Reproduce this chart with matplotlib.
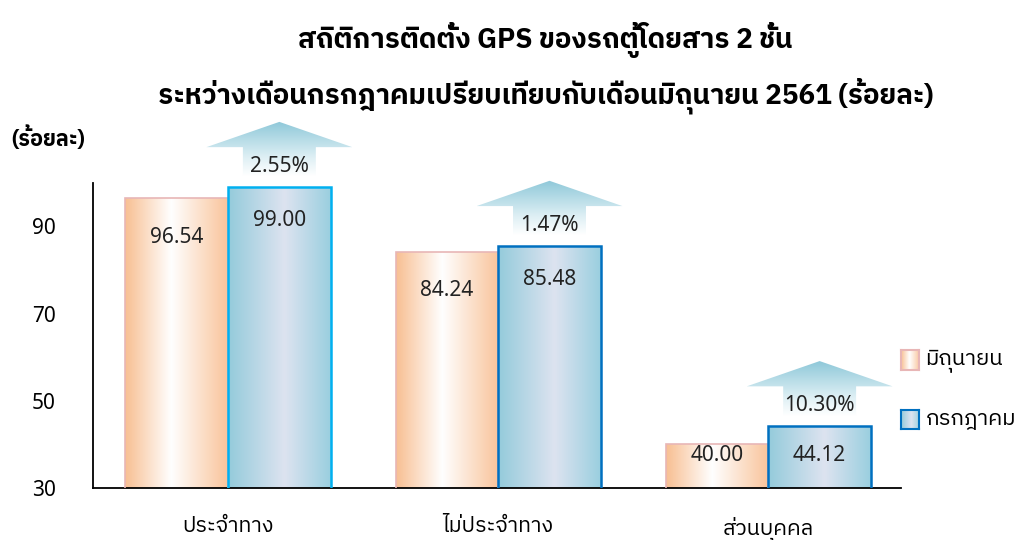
import numpy as np
import matplotlib
matplotlib.use("Agg")
import matplotlib.pyplot as plt
from matplotlib.colors import LinearSegmentedColormap
from matplotlib.patches import Polygon

plt.rcParams['font.family'] = ['Noto Sans', 'IBM Plex Sans Thai']
bold_fam = ['IBM Plex Sans Thai', 'DejaVu Sans']

# ข้อมูล
categories = ['ประจำทาง', 'ไม่ประจำทาง', 'ส่วนบุคคล']
june = [96.54, 84.24, 40.00]
july = [99.00, 85.48, 44.12]
change_labels = ['2.55%', '1.47%', '10.30%']
series_names = ['มิถุนายน', 'กรกฎาคม']

# สีไล่ระดับ
orange_cmap = LinearSegmentedColormap.from_list(
    'org', [(0, '#f8bf92'), (0.45, '#ffffff'), (1, '#f9c49b')])
blue_cmap = LinearSegmentedColormap.from_list(
    'blu', [(0, '#94cbdb'), (0.55, '#dde3f0'), (1, '#9acfdf')])
arrow_cmap = LinearSegmentedColormap.from_list(
    'arr', [(0, '#ffffff'), (0.35, '#ddeff4'), (1, '#8ec8d9')])
july_edges = ['#00b0f0', '#0070c0', '#0070c0']

grad_h = np.linspace(0, 1, 256).reshape(1, -1)
grad_v = np.linspace(0, 1, 256).reshape(-1, 1)

fig = plt.figure(figsize=(10.16, 5.4), dpi=100)
ax = fig.add_axes([0.0915, 0.0963, 0.795, 0.565])

x = np.arange(len(categories))
w = 0.38

bars_june = ax.bar(x - w / 2, june, w, facecolor='none',
                   edgecolor='#e8b6b6', linewidth=1.2, zorder=3)
bars_july = ax.bar(x + w / 2, july, w, facecolor='none',
                   edgecolor=july_edges, linewidth=1.8, zorder=3)


def fill_gradient(rect, cmap):
    x0 = rect.get_x()
    x1, y1 = x0 + rect.get_width(), rect.get_height()
    im = ax.imshow(grad_h, cmap=cmap, extent=[x0, x1, 30, y1],
                   aspect='auto', zorder=2, interpolation='bilinear')
    im.set_clip_path(rect)


for r in bars_june:
    fill_gradient(r, orange_cmap)
for r in bars_july:
    fill_gradient(r, blue_cmap)

# ลูกศรแสดงการเปลี่ยนแปลง
for xi, v, lab in zip(x + w / 2, july, change_labels):
    base = v + 2.5
    neck = v + 9.2
    tip = v + 15.0
    hw, sw = 0.27, 0.135
    pts = [(xi - sw, base), (xi - sw, neck), (xi - hw, neck), (xi, tip),
           (xi + hw, neck), (xi + sw, neck), (xi + sw, base)]
    poly = Polygon(pts, closed=True, facecolor='none', edgecolor='none',
                   clip_on=False)
    ax.add_patch(poly)
    im = ax.imshow(grad_v, cmap=arrow_cmap, origin='lower',
                   extent=[xi - hw, xi + hw, base, tip],
                   aspect='auto', zorder=2, interpolation='bilinear')
    im.set_clip_path(poly)
    im.set_clip_box(fig.bbox)
    ax.text(xi, v + 4.8, lab, ha='center', va='center', fontsize=15,
            color='#222222', zorder=4, clip_on=False)

# ค่าในแท่ง
for xi, v in zip(x - w / 2, june):
    ax.text(xi, max(v - 9.0, 37.5), f'{v:.2f}', ha='center', va='center',
            fontsize=15, color='#222222', zorder=4)
for xi, v in zip(x + w / 2, july):
    ax.text(xi, max(v - 7.7, 37.5), f'{v:.2f}', ha='center', va='center',
            fontsize=15, color='#222222', zorder=4)

ax.set_xlim(-0.5, 2.49)
ax.set_ylim(30, 100)
ax.set_yticks([30, 50, 70, 90])
ax.set_xticks(x)
ax.set_xticklabels(categories, fontsize=15.5)
ax.tick_params(axis='y', length=0, pad=27, labelsize=15)
ax.tick_params(axis='x', length=0, pad=20)
for s in ['top', 'right']:
    ax.spines[s].set_visible(False)
ax.spines['left'].set_color('black')
ax.spines['bottom'].set_color('black')
ax.spines['left'].set_linewidth(1.3)
ax.spines['bottom'].set_linewidth(1.3)

# ชื่อกราฟ
fig.text(0.537, 0.925, 'สถิติการติดตั้ง GPS ของรถตู้โดยสาร 2 ชั้น',
         ha='center', va='center', fontsize=20, fontweight='bold',
         family=bold_fam)
fig.text(0.537, 0.822, 'ระหว่างเดือนกรกฎาคมเปรียบเทียบกับเดือนมิถุนายน 2561 (ร้อยละ)',
         ha='center', va='center', fontsize=20, fontweight='bold',
         family=bold_fam)
fig.text(0.047, 0.745, '(ร้อยละ)', ha='center', va='center', fontsize=15.5,
         fontweight='bold', family=bold_fam)

# คำอธิบายสัญลักษณ์
for i, (name, cmap, ec) in enumerate(zip(series_names,
                                         [orange_cmap, blue_cmap],
                                         ['#e8b6b6', '#0070c0'])):
    y0 = 0.315 - i * 0.11
    lax = fig.add_axes([0.887, y0, 0.018, 0.036])
    lax.imshow(grad_h, cmap=cmap, aspect='auto', interpolation='bilinear')
    lax.set_xticks([])
    lax.set_yticks([])
    for sp in lax.spines.values():
        sp.set_color(ec)
        sp.set_linewidth(1.5)
    fig.text(0.911, y0 + 0.018, name, ha='left', va='center', fontsize=16)

fig.savefig('out.png', dpi=100)
